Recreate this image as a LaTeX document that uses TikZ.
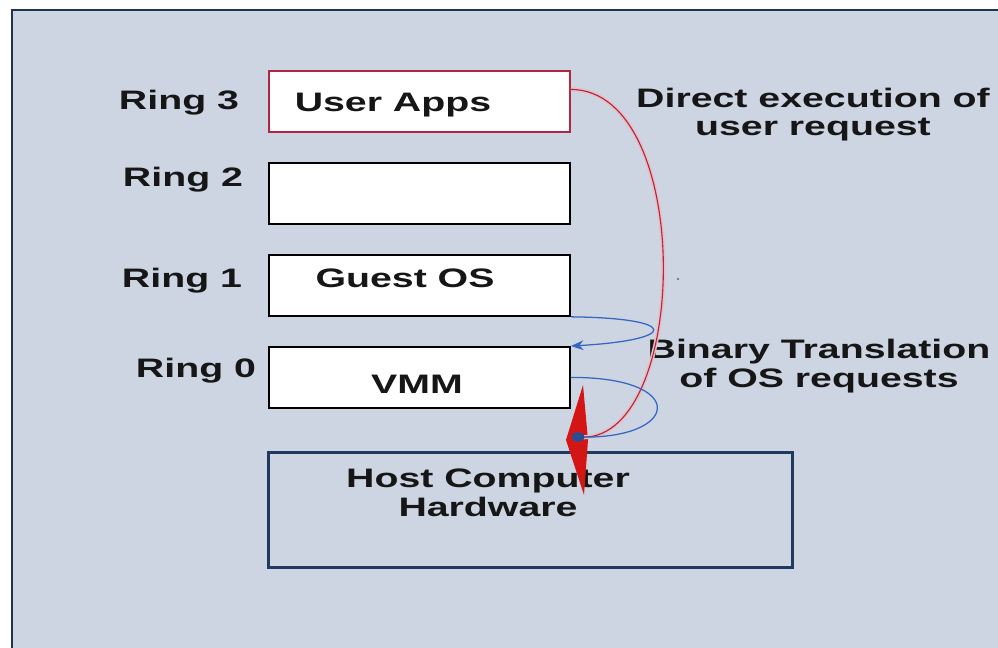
\documentclass[tikz,border=0pt]{standalone}
\usepackage{fontspec}
\setmainfont{Liberation Sans}[FakeStretch=1.47]
\usetikzlibrary{arrows.meta}
\definecolor{panel}{HTML}{CDD5E3}
\definecolor{frameline}{HTML}{1E3450}
\definecolor{ringred}{HTML}{B0283F}
\definecolor{hostblue}{HTML}{1F3A60}
\definecolor{pathblue}{HTML}{3567C0}
\definecolor{spikered}{HTML}{D41515}
\definecolor{ink}{HTML}{161616}
\begin{document}
\begin{tikzpicture}[x=0.025cm,y=-0.025cm,
  ringbox/.style={draw=black, line width=1.3pt, fill=white,
    minimum width=7.525cm, minimum height=1.525cm, inner sep=0pt, anchor=north west},
  hostbox/.style={draw=hostblue, line width=2.2pt,
    minimum width=13.1cm, minimum height=2.875cm, inner sep=0pt, anchor=north west},
  txt/.style={font=\fontsize{19}{20}\selectfont\bfseries, text=ink,
    anchor=base, inner sep=0pt, align=center},
  flow/.style={pathblue, line width=0.9pt},
]
\useasboundingbox (0,0) rectangle (998,648);

% slide panel with its frame on the top and left
\fill[panel] (12,10) rectangle (998,648);
\draw[frameline, line width=2pt] (12,648) -- (12,10) -- (998,10);

% privilege rings
\node[ringbox, draw=ringred] (apps) at (268,70) {};
\node[ringbox] (ring2) at (268,162) {};
\node[ringbox] (guest) at (268,254) {};
\node[ringbox] (vmm) at (268,346) {};
\node[hostbox] (host) at (267,451) {};

% ring labels and box captions (multi-line nodes sit on their last line)
\node[txt] (r3) at (179,110) {Ring 3};
\node[txt] (r2) at (183,187) {Ring 2};
\node[txt] (r1) at (182,288) {Ring 1};
\node[txt] (r0) at (196,377) {Ring 0};
\node[txt] (tapps) at (393,112) {User Apps};
\node[txt] (tguest) at (405,288) {Guest OS};
\node[txt] (tvmm) at (417,393) {VMM};
\node[txt] (thost) at (488,516) {Host Computer\\Hardware};
\node[txt] (tdirect) at (813,136) {Direct execution of\\user request};
\node[txt] (tbinary) at (819,387) {Binary Translation\\of OS requests};

% point where the paths reach the hardware
\coordinate (hit) at (578,437);

% red wedge into the hardware
\fill[spikered] (583,385) -- (588,440) -- (584,495) -- (566,440) -- cycle;

% direct execution path
\draw[ringred!30, line width=3pt] ([yshift=0.3cm]apps.east)
  .. controls (696,90) and (690,448) .. (hit);
\draw[ringred, line width=0.8pt] ([yshift=0.3cm]apps.east)
  .. controls (696,90) and (690,448) .. (hit);

% binary translation paths
\draw[flow, -{Stealth[length=9pt,width=7pt]}] (guest.south east)
  .. controls (680,318) and (680,340) .. (vmm.north east);
\draw[flow] (vmm.east) .. controls (690,377) and (680,440) .. (hit);
\fill[pathblue!75!black] (hit) ellipse [x radius=0.16cm, y radius=0.12cm];

% stray mark
\fill[ink!70] (678,279) circle [radius=0.03cm];
\end{tikzpicture}
\end{document}
